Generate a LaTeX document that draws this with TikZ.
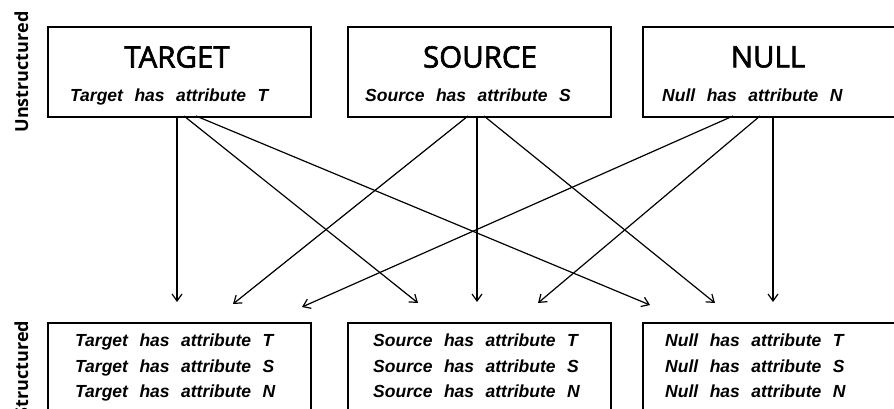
\documentclass[tikz,border=0pt]{standalone}
\usepackage{fontspec}
\setmainfont{Liberation Sans}
\newfontfamily\titlefont[FakeBold=2.2]{Open Sans}
\newfontfamily\labelfont{Open Sans}
\usetikzlibrary{arrows.meta}
\newcommand\attrfont{\bfseries\itshape\fontsize{17.5}{20}\selectfont\spaceskip=11.5pt plus 0pt minus 0pt\relax}
\begin{document}
\begin{tikzpicture}[x=1pt,y=-1pt,
  box/.style={draw, line width=1.8pt, minimum width=263pt, anchor=north west, inner sep=0pt},
  title/.style={font=\titlefont\fontsize{29.5}{34}\selectfont, inner sep=0pt},
  attr/.style={font=\attrfont, anchor=base west, inner sep=0pt},
  sidelabel/.style={font=\labelfont\bfseries\fontsize{18}{20}\selectfont, rotate=90, anchor=base, inner sep=0pt},
  conn/.style={line width=1.2pt, -{Straight Barb[length=7pt,width=10pt]}}
]
\useasboundingbox (0,0) rectangle (894,409);
\clip (0,0) rectangle (894,409);

% top boxes
\node[box, minimum height=90pt] (T) at (47,26) {};
\node[box, minimum height=90pt] (S) at (347,26) {};
\node[box, minimum height=90pt] (N) at (642,26) {};
\node[title] (Tt) at (177,57) {TARGET};
\node[title] (St) at (480,57) {SOURCE};
\node[title] (Nt) at (768,57) {NULL};
\node[attr] (Ta) at (70,102) {Target has attribute T};
\node[attr] (Sa) at (365,102) {Source has attribute S};
\node[attr] (Na) at (662,102) {Null has attribute N};

% bottom boxes
\node[box, minimum height=100pt] (BT) at (47,322) {};
\node[box, minimum height=100pt] (BS) at (347,322) {};
\node[box, minimum height=100pt] (BN) at (642,322) {};
\node[attr] (BT1) at (75,346) {Target has attribute T};
\node[attr] (BT2) at (75,372) {Target has attribute S};
\node[attr] (BT3) at (75,397) {Target has attribute N};
\node[attr] (BS1) at (373,346) {Source has attribute T};
\node[attr] (BS2) at (373,372) {Source has attribute S};
\node[attr] (BS3) at (373,397) {Source has attribute N};
\node[attr] (BN1) at (665,346) {Null has attribute T};
\node[attr] (BN2) at (665,372) {Null has attribute S};
\node[attr] (BN3) at (665,397) {Null has attribute N};

% side labels
\node[sidelabel] (L1) at (28,72) {Unstructured};
\node[sidelabel] (L2) at (28,369) {Structured};

% connector start points
\coordinate (t0) at (177,116);
\coordinate (t1) at (184,116);
\coordinate (t2) at (196,116);
\coordinate (s0) at (477,116);
\coordinate (s1) at (468,116);
\coordinate (s2) at (484,116);
\coordinate (n0) at (773,116);
\coordinate (n1) at (733,116);
\coordinate (n2) at (760,116);
% connector end points
\coordinate (e1) at (177,302);
\coordinate (e2) at (233,304);
\coordinate (e3) at (302,307);
\coordinate (e4) at (418,303);
\coordinate (e5) at (477,302);
\coordinate (e6) at (538,303);
\coordinate (e7) at (650,305);
\coordinate (e8) at (715,303);
\coordinate (e9) at (773,302);

\draw[conn] (t0) -- (e1);
\draw[conn] (t1) -- (e4);
\draw[conn] (t2) -- (e7);
\draw[conn] (s0) -- (e5);
\draw[conn] (s1) -- (e2);
\draw[conn] (s2) -- (e8);
\draw[conn] (n0) -- (e9);
\draw[conn] (n1) -- (e3);
\draw[conn] (n2) -- (e6);
\end{tikzpicture}
\end{document}
